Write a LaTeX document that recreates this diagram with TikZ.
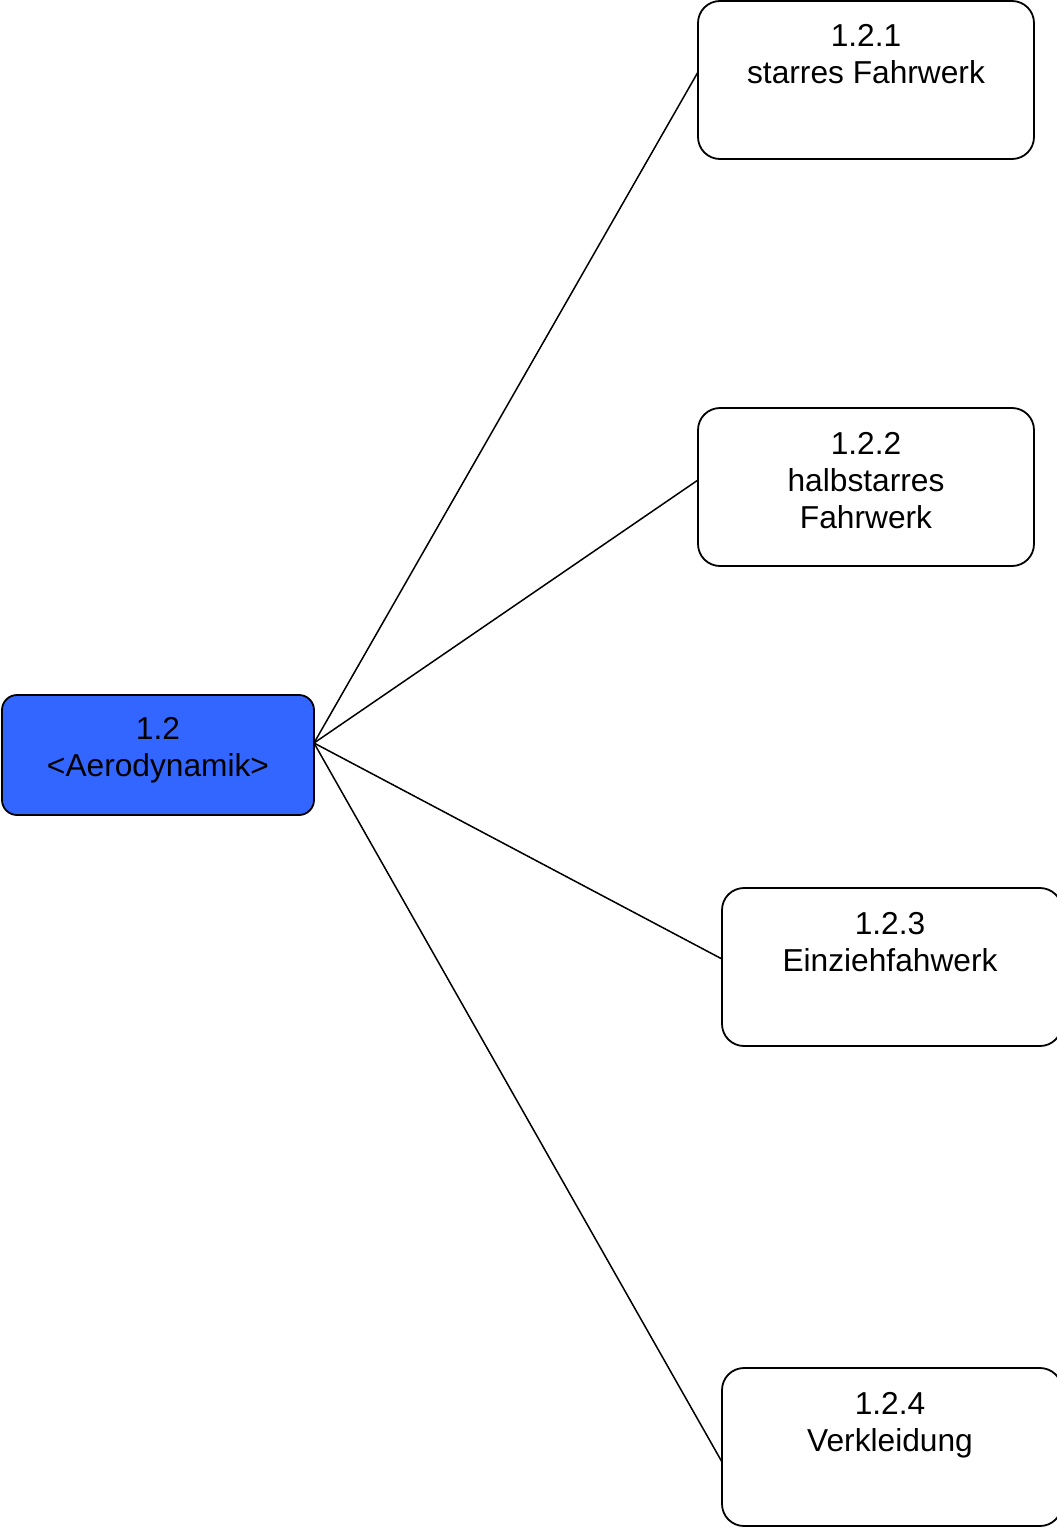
\documentclass[tikz,border=0pt]{standalone}
\usepackage{fontspec}
\setmainfont{Liberation Sans}
\begin{document}
\begin{tikzpicture}[x=1pt,y=-1pt,
  box/.style={draw=black,line width=1.8pt,rounded corners=22pt,fill=white,
    minimum width=336pt,minimum height=158pt,inner sep=0pt,outer sep=0pt,anchor=north west},
  rootbox/.style={draw=black,line width=1.8pt,rounded corners=15pt,fill=rootblue,
    minimum width=312pt,minimum height=120pt,inner sep=0pt,outer sep=0pt,anchor=north west},
  txt/.style={anchor=north,inner sep=0pt,align=center,
    font=\fontsize{31.7pt}{37pt}\selectfont},
  link/.style={draw=black,line width=1.5pt}]
\definecolor{rootblue}{HTML}{3366FF}
\useasboundingbox (0,0) rectangle (1057,1528);
\begin{scope}
\clip (0,0) rectangle (1057,1528);

% connector end points on the box borders
\coordinate (r0) at (314,743);
\coordinate (e1) at (698,72);
\coordinate (e2) at (698,480);
\coordinate (e3) at (722,959);
\coordinate (e4) at (722,1462);
\draw[link] (r0) -- (e1);
\draw[link] (r0) -- (e2);
\draw[link] (r0) -- (e3);
\draw[link] (r0) -- (e4);

% root
\node[rootbox] (root) at (2,695) {};
\node[txt] (troot) at (158,717) {1.2\\<Aerodynamik>};

% children
\node[box] (b1) at (698,1) {};
\node[txt] (t1) at (866,24) {1.2.1\\starres Fahrwerk};
\node[box] (b2) at (698,408) {};
\node[txt] (t2) at (866,432) {1.2.2\\halbstarres\\Fahrwerk};
\node[box,minimum width=340pt] (b3) at (722,888) {};
\node[txt] (t3) at (890,912) {1.2.3\\Einziehfahwerk};
\node[box,minimum width=340pt] (b4) at (722,1368) {};
\node[txt] (t4) at (890,1392) {1.2.4\\Verkleidung};
\end{scope}
\end{tikzpicture}
\end{document}
